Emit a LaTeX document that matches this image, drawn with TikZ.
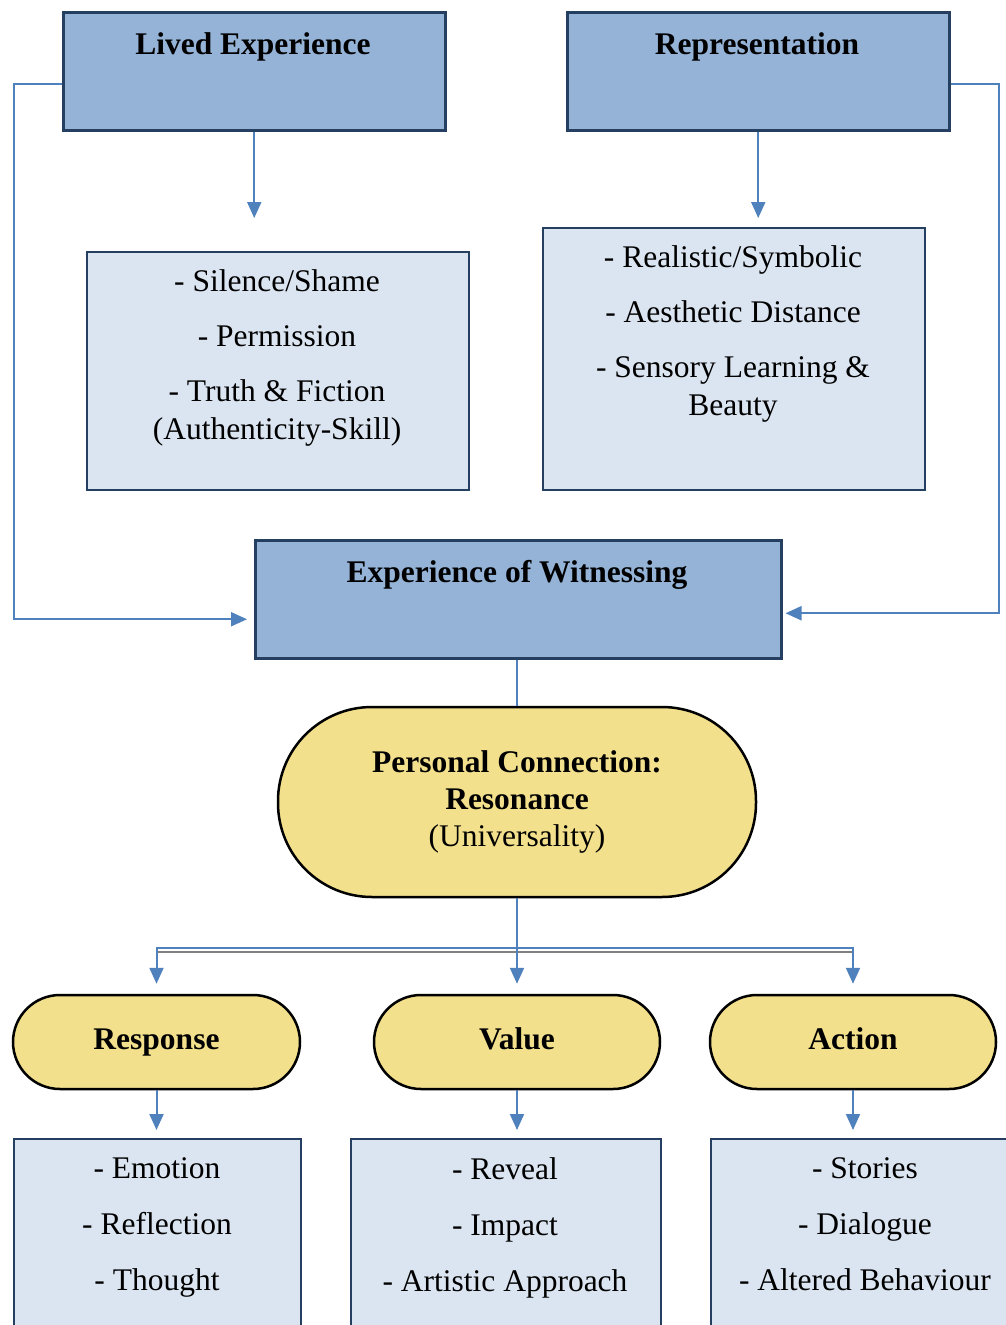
\documentclass[tikz,border=0pt]{standalone}
\usepackage{fontspec}
\setmainfont{Liberation Serif}
\usetikzlibrary{arrows.meta}
\definecolor{navy}{HTML}{243F60}
\definecolor{darkfill}{HTML}{95B3D7}
\definecolor{lightfill}{HTML}{DBE5F1}
\definecolor{gold}{HTML}{F3E08C}
\definecolor{arrowblue}{HTML}{4F81BD}
\definecolor{linegray}{HTML}{808080}
\begin{document}
\begin{tikzpicture}[x=1pt,y=-1pt,
 headbox/.style={draw=navy,fill=darkfill,line width=2.5pt,anchor=north west,inner sep=0pt},
 listbox/.style={draw=navy,fill=lightfill,line width=2pt,anchor=north west,inner sep=0pt},
 pill/.style={draw=black,fill=gold,line width=2.5pt,inner sep=0pt,align=center,font=\fontsize{31.5}{37}\selectfont},
 smallpill/.style={pill,minimum height=94pt,rounded corners=47pt,text height=22pt,text depth=7pt,font=\fontsize{31.5}{37}\selectfont\bfseries},
 txt/.style={inner sep=0pt,align=center,anchor=north,font=\fontsize{31.5}{38}\selectfont},
 ttl/.style={inner sep=0pt,anchor=base,font=\fontsize{31.5}{38}\selectfont\bfseries},
 conn/.style={draw=arrowblue,line width=2pt},
 arr/.style={conn,-{Triangle[width=14pt,length=16pt]}}]
\clip (0,0) rectangle (1006,1325);
\fill[white] (0,0) rectangle (1006,1325);

% top header boxes
\node[headbox,minimum width=382pt,minimum height=118pt] (lived) at (62,11) {};
\node[ttl] (livedT) at (253,54) {Lived Experience};
\node[headbox,minimum width=382pt,minimum height=118pt] (rep) at (566,11) {};
\node[ttl] (repT) at (757,54) {Representation};

% list boxes
\node[listbox,minimum width=382pt,minimum height=238pt] (silence) at (86,251) {};
\node[txt] (silenceT) at (277,269) {- Silence/Shame\\[17pt]- Permission\\[17pt]- Truth \& Fiction\\(Authenticity-Skill)};
\node[listbox,minimum width=382pt,minimum height=262pt] (real) at (542,227) {};
\node[txt] (realT) at (733,245) {- Realistic/Symbolic\\[17pt]- Aesthetic Distance\\[17pt]- Sensory Learning \&\\Beauty};

% witnessing
\node[headbox,minimum width=526pt,minimum height=118pt] (witness) at (254,539) {};
\node[ttl] (witnessT) at (517,582) {Experience of Witnessing};

% resonance
\node[pill,minimum width=478pt,minimum height=190pt,rounded corners=94pt] (res) at (517,802)
 {\textbf{Personal Connection:}\\\textbf{Resonance}\\(Universality)};

% small pills
\node[smallpill,minimum width=287pt] (response) at (156.5,1042) {Response};
\node[smallpill,minimum width=286pt] (value) at (517,1042) {Value};
\node[smallpill,minimum width=286pt] (action) at (853,1042) {Action};

% bottom boxes
\node[listbox,minimum width=287pt,minimum height=250pt] (emo) at (13,1138) {};
\node[txt] (emoT) at (157,1157) {- Emotion\\[18pt]- Reflection\\[18pt]- Thought};
\node[listbox,minimum width=310pt,minimum height=250pt] (rev) at (350,1138) {};
\node[txt] (revT) at (505,1157) {- Reveal\\[18pt]- Impact\\[18pt]- Artistic Approach};
\node[listbox,minimum width=310pt,minimum height=250pt] (sto) at (710,1138) {};
\node[txt] (stoT) at (865,1157) {- Stories\\[18pt]- Dialogue\\[18pt]- Altered Behaviour};

% connectors
\draw[arr,shorten >=33pt] (lived.south) -- (lived.south |- silence.north);
\draw[arr,shorten >=9pt] (rep.south) -- (rep.south |- real.north);
\draw[arr,shorten >=7pt] ([yshift=-13pt]lived.west) -- ++(-48,0) |- ([yshift=-20pt]witness.west);
\draw[arr,shorten >=3pt] ([yshift=-13pt]rep.east) -- ++(48,0) |- ([yshift=-14pt]witness.east);
\draw[conn] (res.north |- witness.south) -- (res.north);

\coordinate (g) at (0,952);
\draw[linegray,line width=1.5pt] (response.north |- g) -- (action.north |- g);
\draw[arr,shorten >=10pt] (res.south) -- (value.north);
\draw[arr,shorten >=10pt] (res.south) -- ++(0,50) -| (response.north);
\draw[arr,shorten >=10pt] (res.south) -- ++(0,50) -| (action.north);

\draw[arr,shorten >=8pt] (response.south) -- (response.south |- emo.north);
\draw[arr,shorten >=8pt] (value.south) -- (value.south |- rev.north);
\draw[arr,shorten >=8pt] (action.south) -- (action.south |- sto.north);
\end{tikzpicture}
\end{document}
